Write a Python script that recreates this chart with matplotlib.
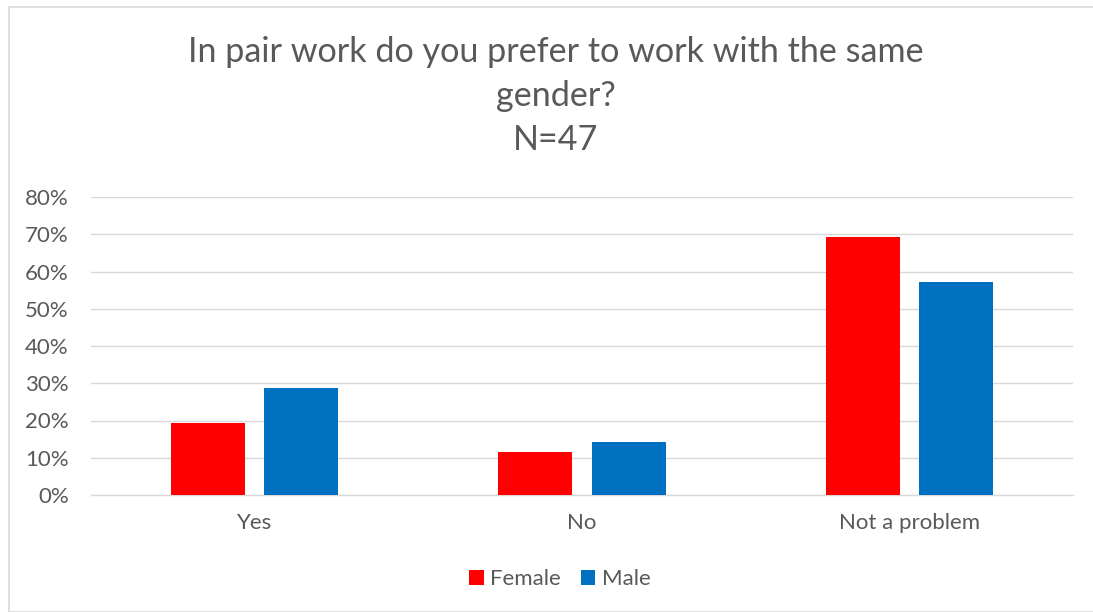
import matplotlib.pyplot as plt
import matplotlib.patches as mpatches
import numpy as np

plt.rcParams["font.family"] = ["Lato", "DejaVu Sans"]

categories = ["Yes", "No", "Not a problem"]
female = [19.2, 11.5, 69.2]
male = [28.6, 14.3, 57.1]
series = ["Female", "Male"]
colors = ["#ff0000", "#0070c0"]
text_color = "#595959"
grid_color = "#d9d9d9"

fig = plt.figure(figsize=(10.93, 6.12), dpi=100)
ax = fig.add_axes([91 / 1093, 1 - 495 / 612, 982 / 1093, 298 / 612])

x = np.arange(len(categories))
width = 0.226
offset = 0.143
ax.bar(x - offset, female, width, color=colors[0], label=series[0], zorder=3)
ax.bar(x + offset, male, width, color=colors[1], label=series[1], zorder=3)

ax.set_xlim(-0.5, len(categories) - 0.5)
ax.set_ylim(0, 80)
ax.set_yticks(np.arange(0, 81, 10))
ax.set_yticklabels([f"{v}%" for v in range(0, 81, 10)])
ax.set_xticks(x)
ax.set_xticklabels(categories)
ax.tick_params(axis="both", length=0, labelsize=16, colors=text_color)
ax.tick_params(axis="y", pad=16)
ax.tick_params(axis="x", pad=13)
ax.grid(axis="y", color=grid_color, linewidth=1, zorder=0)
for s in ["top", "right", "left"]:
    ax.spines[s].set_visible(False)
ax.spines["bottom"].set_color(grid_color)
ax.spines["bottom"].set_linewidth(1)

fig.text(556 / 1093, 1 - 96 / 612,
         "In pair work do you prefer to work with the same\ngender?\nN=47",
         ha="center", va="center", fontsize=24.6, color=text_color, linespacing=1.45)

ax.legend(loc="center", bbox_to_anchor=(560 / 1093, 1 - 579 / 612),
          bbox_transform=fig.transFigure, ncol=2, frameon=False,
          fontsize=16, labelcolor=text_color, handlelength=0.65, handleheight=0.65,
          handletextpad=0.3, columnspacing=0.9)

fig.patches.append(mpatches.Rectangle((9 / 1093, 0), 1.1, 1 - 7 / 612,
                                      transform=fig.transFigure, fill=False,
                                      edgecolor=grid_color, linewidth=1.2))

fig.savefig("out.png", dpi=100)
